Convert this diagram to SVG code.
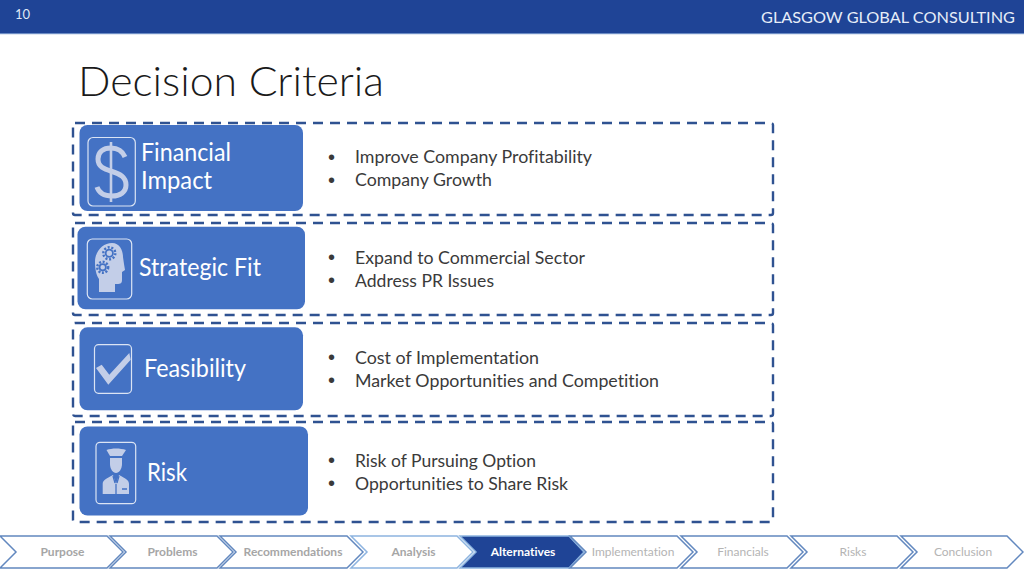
<svg xmlns="http://www.w3.org/2000/svg" width="1024" height="576" viewBox="0 0 1024 576">
<style>
text{font-family:"Lato","Carlito","Liberation Sans",sans-serif;font-variant-ligatures:none}
.dash{fill:none;stroke:#2f5291;stroke-width:2.4;stroke-dasharray:10 7}
.card{fill:#4472c4}
.frame{fill:#4472c4;stroke:#dbe4f4;stroke-width:1.2}
.icon{fill:#c3cee8}
.iconl{fill:none;stroke:#c3cee8}
.cut{fill:none;stroke:#4472c4;stroke-width:1.3}
.lab{fill:#fff;font-size:25px}
.bul{fill:#3a3a3a;font-size:18px}
.dot{fill:#3a3a3a;font-size:20px;font-family:"Liberation Sans",sans-serif}
.step{fill:#fff;stroke:#6288bf;stroke-width:1.5}
.stepl{fill:#fff;stroke:#8db4e0;stroke-width:1.5}
.st{fill:#a6a6a6;font-size:12px;font-weight:700;text-anchor:middle}
.st2{fill:#b4b4b4;font-size:12px;text-anchor:middle}
</style>
<g id="header">
<rect x="0" y="0" width="1024" height="33" fill="#1f4496"/>
<rect x="0" y="33" width="1024" height="1.2" fill="#6c8cc4"/>
<text x="15" y="19" font-size="13" fill="#dfe8f6">10</text>
<text x="761" y="22.500" font-size="16" fill="#e6edf8" textLength="254" lengthAdjust="spacingAndGlyphs">GLASGOW GLOBAL CONSULTING</text>
</g>
<g id="title"><text x="78" y="96" font-size="41" font-weight="300" fill="#1a1a1a" textLength="306" lengthAdjust="spacingAndGlyphs">Decision Criteria</text></g>

<g id="financial">
<rect class="dash" x="73" y="123" width="700" height="92" rx="2"/>
<rect class="card" x="79.5" y="125" width="223.5" height="86" rx="8"/>
<rect class="frame" x="88" y="137.5" width="47.3" height="68.5" rx="5"/>
<path class="iconl" stroke-width="5" d="M125 157C122 150 117 148 111 148C103 148 98 152 98 159C98 167 104 169 112 171.500C120 174 126 177 126 185C126 192 120 196 112 196C105 196 99 193 97 187"/>
<path class="iconl" stroke-width="2.6" d="M111 142V202"/>
<text class="lab" x="141" y="161" textLength="90" lengthAdjust="spacingAndGlyphs">Financial</text>
<text class="lab" x="141" y="189" textLength="71" lengthAdjust="spacingAndGlyphs">Impact</text>
<text class="dot" x="328" y="164">•</text><text class="bul" x="355" y="163" textLength="237" lengthAdjust="spacingAndGlyphs">Improve Company Profitability</text>
<text class="dot" x="328" y="187">•</text><text class="bul" x="355" y="186" textLength="137" lengthAdjust="spacingAndGlyphs">Company Growth</text>
</g>

<g id="strategic">
<rect class="dash" x="73" y="223" width="700" height="92" rx="2"/>
<rect class="card" x="77.5" y="226.7" width="227.5" height="82.6" rx="8"/>
<rect class="frame" x="87.3" y="239" width="44.4" height="60" rx="5"/>
<path class="icon" d="M99 292V279C96 275 95 268 95 262C95 251 103 243 112 243C120 243 123 251 123 257L124 264L125 270L122 272V280C122 284 120 284 115 284V292Z"/>
<circle cx="109.300" cy="253.300" r="6" fill="none" stroke="#4472c4" stroke-width="2.4" stroke-dasharray="2 1.700"/>
<circle cx="109.300" cy="253.300" r="3.600" fill="none" stroke="#4472c4" stroke-width="1.8"/>
<circle cx="102.700" cy="267.300" r="5.500" fill="none" stroke="#4472c4" stroke-width="2.4" stroke-dasharray="2 1.600"/>
<circle cx="102.700" cy="267.300" r="3.200" fill="none" stroke="#4472c4" stroke-width="1.8"/>
<text class="lab" x="139" y="276" textLength="122" lengthAdjust="spacingAndGlyphs">Strategic Fit</text>
<text class="dot" x="328" y="264">•</text><text class="bul" x="355" y="264" textLength="230" lengthAdjust="spacingAndGlyphs">Expand to Commercial Sector</text>
<text class="dot" x="328" y="287">•</text><text class="bul" x="355" y="287" textLength="139" lengthAdjust="spacingAndGlyphs">Address PR Issues</text>
</g>

<g id="feasibility">
<rect class="dash" x="73" y="323" width="700" height="93" rx="2"/>
<rect class="card" x="79.5" y="327.3" width="223.5" height="83" rx="8"/>
<rect class="frame" x="94.5" y="344.7" width="37" height="48.6" rx="4"/>
<path class="icon" d="M96 368L101.700 364.700L109.300 374.700L129.300 353L130.700 359.700L108.300 384.700Z"/>
<text class="lab" x="144" y="377" textLength="102" lengthAdjust="spacingAndGlyphs">Feasibility</text>
<text class="dot" x="328" y="364">•</text><text class="bul" x="355" y="364" textLength="184" lengthAdjust="spacingAndGlyphs">Cost of Implementation</text>
<text class="dot" x="328" y="387">•</text><text class="bul" x="355" y="387" textLength="304" lengthAdjust="spacingAndGlyphs">Market Opportunities and Competition</text>
</g>

<g id="risk">
<rect class="dash" x="73" y="422" width="700" height="100" rx="2"/>
<rect class="card" x="79.5" y="426.5" width="228.5" height="89" rx="8"/>
<rect class="frame" x="96" y="442.3" width="39.7" height="61.4" rx="4"/>
<path class="icon" d="M106.500 450C112 448 120 448 126 450L122 456H110Z"/>
<path class="icon" d="M110 458H122V464C122 469 119 473 116 473C113 473 110 469 110 464Z"/>
<path class="icon" d="M102.700 494V484C102.700 480 106 479 113 475L116 484L119 475C126 479 129 480 129 484V494Z"/>
<path class="cut" d="M116 484V494M113 476L115 483M119 476L117 483M122 489H127"/>
<text class="lab" x="147" y="481" textLength="40" lengthAdjust="spacingAndGlyphs">Risk</text>
<text class="dot" x="328" y="467">•</text><text class="bul" x="355" y="467" textLength="181" lengthAdjust="spacingAndGlyphs">Risk of Pursuing Option</text>
<text class="dot" x="328" y="490">•</text><text class="bul" x="355" y="490" textLength="213" lengthAdjust="spacingAndGlyphs">Opportunities to Share Risk</text>
</g>

<g id="nav">
<path class="step" d="M0 536H107L123 552L107 568H0L16 552Z"/>
<text class="st" x="62.500" y="556">Purpose</text>
<path class="step" d="M110 536H217L233 552L217 568H110L126 552Z"/>
<text class="st" x="172.500" y="556">Problems</text>
<path class="step" d="M220 536H347L363 552L347 568H220L236 552Z"/>
<text class="st" x="293" y="556">Recommendations</text>
<path class="stepl" d="M351 536H457L473 552L457 568H351L367 552Z"/>
<text class="st" x="413.500" y="556">Analysis</text>
<path fill="#1f4496" stroke="#8db4e0" stroke-width="1.5" d="M460 536H569L584 552L569 568H460L476 552Z"/>
<text class="st" x="523" y="556" style="fill:#fff">Alternatives</text>
<path class="step" d="M570 536H677L693 552L677 568H570L586 552Z"/>
<text class="st2" x="633" y="556">Implementation</text>
<path class="step" d="M681 536H787L803 552L787 568H681L697 552Z"/>
<text class="st2" x="743" y="556">Financials</text>
<path class="step" d="M791 536H897L913 552L897 568H791L807 552Z"/>
<text class="st2" x="853" y="556">Risks</text>
<path class="step" d="M901 536H1007L1023 552L1007 568H901L917 552Z"/>
<text class="st2" x="963" y="556">Conclusion</text>
</g>
</svg>
